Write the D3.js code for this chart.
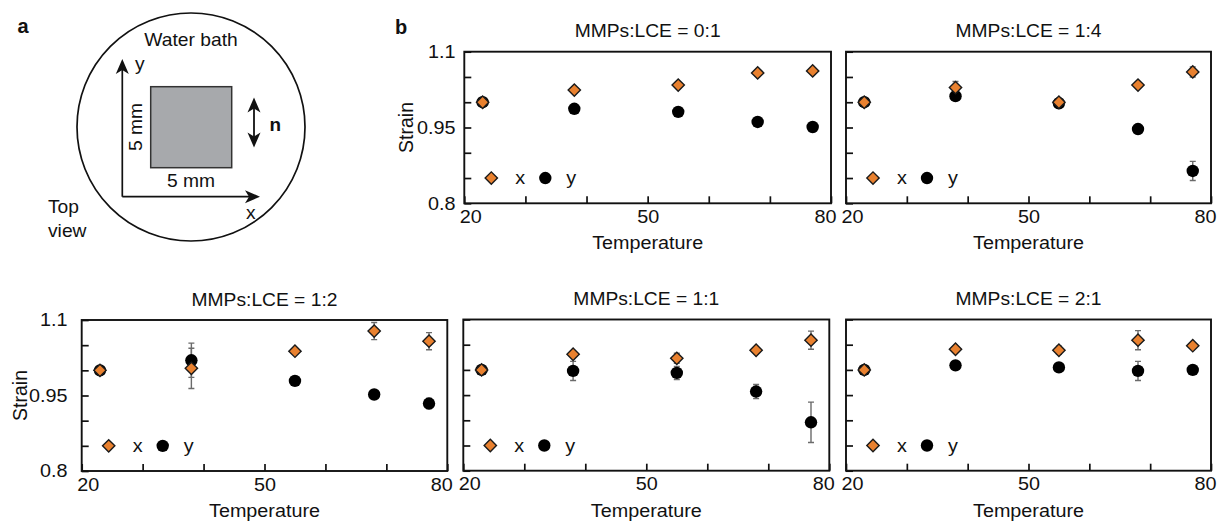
<!DOCTYPE html>
<html>
<head>
<meta charset="utf-8">
<script src="https://cdn.jsdelivr.net/npm/d3@7"></script>
<style>
  html, body { margin: 0; padding: 0; background: #fff; }
  svg { display: block; }
  text { font-family: Arial, "Liberation Sans", Helvetica, sans-serif; fill: #111; }
</style>
</head>
<body>
<svg id="chart" width="1219" height="522"></svg>
<script>
// ---------------- data ----------------
const temperatures = [23, 38, 55, 68, 77];
const panelTitles = ["MMPs:LCE = 0:1", "MMPs:LCE = 1:4", "MMPs:LCE = 1:2", "MMPs:LCE = 1:1", "MMPs:LCE = 2:1"];

const strainX_01 = [1.000, 1.024, 1.034, 1.058, 1.062];
const errX_01    = [0.000, 0.003, 0.003, 0.003, 0.004];
const strainY_01 = [1.000, 0.987, 0.981, 0.961, 0.951];
const errY_01    = [0.000, 0.003, 0.003, 0.003, 0.003];

const strainX_14 = [1.000, 1.029, 1.000, 1.034, 1.060];
const errX_14    = [0.000, 0.012, 0.003, 0.004, 0.010];
const strainY_14 = [1.000, 1.012, 0.998, 0.947, 0.864];
const errY_14    = [0.000, 0.004, 0.003, 0.004, 0.019];

const strainX_12 = [1.000, 1.004, 1.038, 1.078, 1.058];
const errX_12    = [0.000, 0.040, 0.004, 0.017, 0.017];
const strainY_12 = [1.000, 1.020, 0.979, 0.952, 0.934];
const errY_12    = [0.000, 0.034, 0.003, 0.004, 0.010];

const strainX_11 = [1.000, 1.031, 1.023, 1.039, 1.059];
const errX_11    = [0.000, 0.006, 0.010, 0.005, 0.018];
const strainY_11 = [1.000, 0.998, 0.994, 0.957, 0.896];
const errY_11    = [0.000, 0.019, 0.013, 0.014, 0.040];

const strainX_21 = [1.000, 1.041, 1.039, 1.059, 1.048];
const errX_21    = [0.000, 0.004, 0.008, 0.019, 0.004];
const strainY_21 = [1.000, 1.009, 1.005, 0.998, 1.000];
const errY_21    = [0.000, 0.003, 0.004, 0.019, 0.003];

const xTickValues = [20, 30, 40, 50, 60, 70, 80];
const xTickLabels = [20, 50, 80];
const yTickValues = [0.8, 0.85, 0.9, 0.95, 1.0, 1.05, 1.1];
const yTickLabels = [0.8, 0.95, 1.1];
const legendLabels = ["x", "y"];

// ---------------- style/layout ----------------
const SX = 1.1;              // horizontal text stretch
const ORANGE = "#E9812F";
const ERR = "#6b6b6b";

const svg = d3.select("#chart");

function label(g, x, y, str, opts = {}) {
  const t = g.append("text")
    .attr("transform", `translate(${x},${y}) scale(${opts.sx ?? SX},1)`)
    .attr("text-anchor", opts.anchor || "middle")
    .style("font-size", (opts.size || 18) + "px")
    .text(str);
  if (opts.bold) t.style("font-weight", "bold");
  return t;
}

// ---------------- panel a ----------------
const ga = svg.append("g");
label(ga, 17.5, 32.5, "a", { anchor: "start", bold: true, size: 20, sx: 1 });
ga.append("circle").attr("cx", 191).attr("cy", 127).attr("r", 114)
  .attr("fill", "none").attr("stroke", "#111").attr("stroke-width", 1.7);
label(ga, 191, 46, "Water bath", { size: 17.5 });

function arrowHead(g, tipX, tipY, dir) {
  const len = 15, hw = 6.5, notch = 4;
  const bx = tipX - dir[0] * len, by = tipY - dir[1] * len;
  const px = -dir[1], py = dir[0];
  const nx = tipX - dir[0] * (len - notch), ny = tipY - dir[1] * (len - notch);
  g.append("path")
    .attr("d", `M${tipX},${tipY} L${bx + px * hw},${by + py * hw} L${nx},${ny} L${bx - px * hw},${by - py * hw} Z`)
    .attr("fill", "#111");
}
const ox = 122.3, oy = 196.7;
ga.append("path").attr("d", `M${ox},${oy} V70 M${ox},${oy} H250`)
  .attr("stroke", "#111").attr("stroke-width", 1.7).attr("fill", "none");
arrowHead(ga, ox, 59, [0, -1]);
arrowHead(ga, 260, oy, [1, 0]);
label(ga, 135, 70, "y", { anchor: "start", size: 17.5 });
label(ga, 246, 219, "x", { anchor: "start", size: 17.5 });

ga.append("rect").attr("x", 150.7).attr("y", 86.7).attr("width", 81).attr("height", 81)
  .attr("fill", "#A7A9AC").attr("stroke", "#333").attr("stroke-width", 1.5);
ga.append("text")
  .attr("transform", `translate(141.5,127) rotate(-90) scale(${SX},1)`)
  .attr("text-anchor", "middle").style("font-size", "17.5px").text("5 mm");
label(ga, 191, 186.5, "5 mm", { size: 17.5 });

ga.append("line").attr("x1", 254).attr("x2", 254).attr("y1", 108).attr("y2", 137)
  .attr("stroke", "#111").attr("stroke-width", 1.8);
arrowHead(ga, 254, 97.5, [0, -1]);
arrowHead(ga, 254, 147.5, [0, 1]);
label(ga, 269.5, 130.5, "n", { anchor: "start", bold: true, size: 18, sx: 1.05 });

label(ga, 48, 213, "Top", { anchor: "start", size: 17.5 });
label(ga, 48, 237, "view", { anchor: "start", size: 17.5 });

// ---------------- panel b ----------------
label(svg, 395, 33.5, "b", { anchor: "start", bold: true, size: 20, sx: 1 });

const panels = [
  { title: panelTitles[0], xs: strainX_01, xe: errX_01, ys: strainY_01, ye: errY_01, l: 464.3, r: 831, t: 51.7, b: 203.3, yLab: true, pad: 8 },
  { title: panelTitles[1], xs: strainX_14, xe: errX_14, ys: strainY_14, ye: errY_14, l: 846, r: 1211, t: 51.7, b: 203.3, yLab: false },
  { title: panelTitles[2], xs: strainX_12, xe: errX_12, ys: strainY_12, ye: errY_12, l: 81.7, r: 447.3, t: 320, b: 471, yLab: true, pad: 13 },
  { title: panelTitles[3], xs: strainX_11, xe: errX_11, ys: strainY_11, ye: errY_11, l: 463.3, r: 829.3, t: 319.5, b: 470.7, yLab: false },
  { title: panelTitles[4], xs: strainX_21, xe: errX_21, ys: strainY_21, ye: errY_21, l: 846, r: 1211, t: 319.5, b: 470.7, yLab: false },
];

const diamond = d3.symbol().type(d3.symbolSquare).size(76);

panels.forEach(p => {
  const x = d3.scaleLinear().domain([20, 80]).range([p.l, p.r]);
  const y = d3.scaleLinear().domain([0.8, 1.1]).range([p.b, p.t]);
  const g = svg.append("g");

  const ax = g.append("g").attr("transform", `translate(0,${p.b})`)
    .call(d3.axisBottom(x).tickValues(xTickValues).tickSizeInner(-7).tickSizeOuter(0).tickPadding(7)
      .tickFormat(d => xTickLabels.includes(d) ? String(d) : ""));
  ax.selectAll(".tick text").style("font-size", "18px").attr("fill", "#111")
    .attr("transform", `scale(${SX},1)`)
    .attr("x", d => d === 20 ? 5.5 : (d === 80 ? -5.5 : 0));
  const ay = g.append("g").attr("transform", `translate(${p.l},0)`)
    .call(d3.axisLeft(y).tickValues(yTickValues).tickSizeInner(-7).tickSizeOuter(0).tickPadding(p.pad || 8)
      .tickFormat(d => (p.yLab && yTickLabels.some(v => Math.abs(v - d) < 1e-9)) ? String(+d.toFixed(2)) : ""));
  ay.selectAll(".tick text").style("font-size", "18px").attr("fill", "#111")
    .attr("transform", `scale(${SX},1)`);
  g.selectAll(".domain").remove();
  g.selectAll(".tick line").attr("stroke", "#111").attr("stroke-width", 1.7);

  g.append("rect").attr("x", p.l).attr("y", p.t).attr("width", p.r - p.l).attr("height", p.b - p.t)
    .attr("fill", "none").attr("stroke", "#111").attr("stroke-width", 1.9);

  label(g, (p.l + p.r) / 2, p.t - 14.5, p.title, { size: 17.5 });
  label(g, (p.l + p.r) / 2, p.b + 46, "Temperature", { size: 18.5, sx: 1.07 });
  if (p.yLab) {
    g.append("text")
      .attr("transform", `translate(${p.l - (p.t < 100 ? 51 : 55)},${(p.t + p.b) / 2}) rotate(-90)`)
      .attr("text-anchor", "middle").style("font-size", "19.5px").text("Strain");
  }

  const series = [
    { v: p.ys, e: p.ye },
    { v: p.xs, e: p.xe },
  ];
  series.forEach(s => {
    temperatures.forEach((T, i) => {
      if (s.e[i] <= 0) return;
      const cx = x(T), y1 = y(s.v[i] + s.e[i]), y2 = y(s.v[i] - s.e[i]);
      g.append("path")
        .attr("d", `M${cx},${y1} V${y2} M${cx - 3},${y1} H${cx + 3} M${cx - 3},${y2} H${cx + 3}`)
        .attr("stroke", ERR).attr("stroke-width", 1.4).attr("fill", "none");
    });
  });

  g.selectAll("circle.ys").data(temperatures).enter().append("circle")
    .attr("cx", d => x(d)).attr("cy", (d, i) => y(p.ys[i])).attr("r", 6.2).attr("fill", "#000");
  g.selectAll("path.xs").data(temperatures).enter().append("path")
    .attr("d", diamond)
    .attr("transform", (d, i) => `translate(${x(d)},${y(p.xs[i])}) rotate(45)`)
    .attr("fill", ORANGE).attr("stroke", "#1a1a1a").attr("stroke-width", 1.4);

  const ly = y(0.85);
  g.append("path").attr("d", diamond)
    .attr("transform", `translate(${p.l + 27},${ly}) rotate(45)`)
    .attr("fill", ORANGE).attr("stroke", "#1a1a1a").attr("stroke-width", 1.4);
  label(g, p.l + 51, ly + 6, legendLabels[0], { anchor: "start", size: 18 });
  g.append("circle").attr("cx", p.l + 81).attr("cy", ly).attr("r", 6.2).attr("fill", "#000");
  label(g, p.l + 102, ly + 6, legendLabels[1], { anchor: "start", size: 18 });
});
</script>
</body>
</html>
